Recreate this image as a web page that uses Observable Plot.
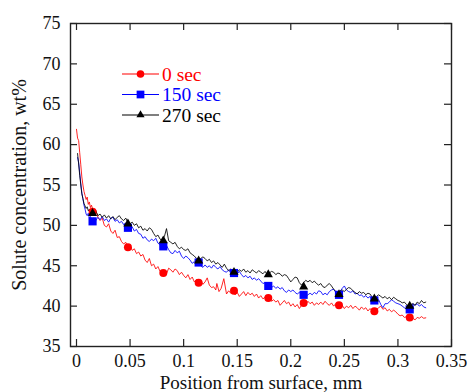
<!DOCTYPE html>
<html>
<head>
<meta charset="utf-8">
<script src="https://cdn.jsdelivr.net/npm/d3@7"></script>
<script src="https://cdn.jsdelivr.net/npm/@observablehq/plot@0.6"></script>
<style>
  html, body { margin: 0; padding: 0; background: #fff; }
  #chart { width: 470px; height: 392px; }
  #chart svg text { font-family: 'Liberation Serif', 'Times New Roman', serif; }
  #chart g[aria-label="x-axis tick label"], #chart g[aria-label="y-axis tick label"] { font-size: 18px; }
  #chart g[aria-label="x-axis label"] { font-size: 19px; }
  #chart g[aria-label="y-axis label"] { font-size: 20px; }
</style>
</head>
<body>
<div id="chart"></div>
<script>
// ---- Data ----
const seriesNames = ["0 sec", "150 sec", "270 sec"];
const seriesColors = ["#ff0000", "#0000ff", "#000000"];
const seriesSymbols = ["circle", "square", "triangle"];

const xTicks = [0, 0.05, 0.1, 0.15, 0.2, 0.25, 0.3, 0.35];
const yTicks = [35, 40, 45, 50, 55, 60, 65, 70, 75];

// profile lines: [position mm, wt%]
const line0 = [
[0.000,61.9],[0.001,60.8],[0.002,60.5],[0.003,59.0],[0.004,57.5],[0.005,56.0],[0.006,55.0],[0.007,54.2],[0.008,53.7],[0.009,53.2],
[0.010,53.5],[0.011,52.6],[0.012,52.9],[0.013,52.2],[0.014,52.5],[0.016,51.6],[0.018,51.9],[0.020,51.0],[0.022,50.6],[0.024,50.9],
[0.026,50.0],[0.028,49.8],[0.030,50.2],[0.032,49.3],[0.034,49.0],[0.036,49.4],[0.038,48.5],[0.040,48.6],[0.042,48.0],[0.044,47.7],
[0.046,47.9],[0.048,47.3],[0.050,47.5],[0.052,46.9],[0.054,47.1],[0.056,46.5],[0.058,46.7],[0.060,46.2],[0.062,46.4],[0.064,45.7],
[0.066,45.4],[0.068,45.9],[0.070,45.0],[0.072,45.2],[0.074,44.6],[0.076,44.9],[0.078,44.3],[0.080,44.1],[0.082,44.4],[0.084,44.0],
[0.086,44.7],[0.088,44.5],[0.090,44.2],[0.092,44.6],[0.094,44.4],[0.096,43.9],[0.098,44.2],[0.100,43.8],[0.102,43.5],[0.104,43.9],
[0.106,43.3],[0.108,43.6],[0.110,43.0],[0.112,43.3],[0.114,42.9],[0.116,43.1],[0.118,42.7],[0.120,43.0],[0.122,43.5],[0.124,42.6],
[0.126,42.3],[0.128,42.4],[0.130,42.0],[0.131,42.8],[0.133,41.8],[0.135,42.2],[0.1375,43.4],[0.140,41.5],[0.142,41.9],[0.144,41.6],
[0.146,41.9],[0.148,41.4],[0.150,41.7],[0.152,41.2],[0.154,41.5],[0.156,41.8],[0.158,41.3],[0.160,41.7],[0.162,41.4],[0.164,41.6],
[0.166,41.2],[0.168,41.5],[0.170,41.0],[0.172,41.3],[0.174,40.9],[0.176,41.1],[0.178,40.9],[0.180,41.2],[0.182,40.6],[0.184,40.8],
[0.186,40.5],[0.188,40.7],[0.190,40.1],[0.192,40.4],[0.194,40.7],[0.196,40.3],[0.198,40.5],[0.200,40.0],[0.202,40.3],[0.204,39.9],
[0.206,40.2],[0.208,39.7],[0.210,40.1],[0.212,40.4],[0.214,40.2],[0.216,40.6],[0.218,40.3],[0.220,40.5],[0.222,40.1],[0.224,40.4],
[0.226,40.2],[0.228,40.5],[0.230,40.2],[0.232,40.6],[0.234,40.3],[0.236,40.1],[0.238,40.4],[0.240,40.0],[0.242,40.3],[0.244,40.1],
[0.246,39.8],[0.248,40.1],[0.250,39.7],[0.252,40.0],[0.254,39.8],[0.256,40.1],[0.258,39.7],[0.260,40.0],[0.262,39.8],[0.264,39.5],
[0.266,39.9],[0.268,39.6],[0.270,39.8],[0.272,39.4],[0.274,39.7],[0.276,39.4],[0.278,39.3],[0.280,39.6],[0.282,39.8],[0.284,40.0],
[0.286,39.6],[0.288,39.8],[0.290,39.4],[0.292,39.6],[0.294,39.3],[0.296,39.5],[0.298,39.3],[0.300,39.0],[0.302,38.8],[0.304,38.9],
[0.306,38.6],[0.308,38.7],[0.310,38.5],[0.312,38.4],[0.314,38.5],[0.316,38.3],[0.318,38.6],[0.320,38.5],[0.322,38.7],[0.324,38.5],
[0.326,38.55]
];
const line150 = [
[0.001,58.4],[0.002,57.8],[0.003,56.5],[0.004,55.2],[0.005,54.0],[0.006,53.3],[0.007,52.5],[0.008,52.0],[0.009,51.4],[0.010,51.2],
[0.011,51.5],[0.012,50.9],[0.013,51.1],[0.014,50.7],[0.016,50.9],[0.018,50.6],[0.020,51.0],[0.022,50.7],[0.024,51.1],[0.026,50.6],
[0.028,50.8],[0.030,50.4],[0.032,50.9],[0.034,51.0],[0.036,50.5],[0.038,50.7],[0.040,50.3],[0.042,50.5],[0.044,50.1],[0.046,50.3],
[0.048,49.8],[0.050,49.6],[0.052,49.8],[0.054,49.3],[0.056,49.5],[0.058,49.0],[0.060,48.9],[0.062,48.4],[0.064,48.6],[0.066,48.2],
[0.068,48.0],[0.070,48.3],[0.072,48.1],[0.074,48.4],[0.076,47.8],[0.078,47.6],[0.080,47.4],[0.082,47.7],[0.084,47.5],[0.086,47.0],
[0.088,46.6],[0.090,46.5],[0.092,46.9],[0.094,46.6],[0.096,46.8],[0.098,46.2],[0.100,45.9],[0.102,46.2],[0.104,46.0],[0.106,45.7],
[0.108,45.3],[0.110,45.5],[0.112,45.2],[0.114,45.3],[0.116,45.0],[0.118,44.8],[0.120,45.1],[0.122,44.8],[0.124,45.0],[0.126,44.7],
[0.128,45.1],[0.130,44.8],[0.132,44.6],[0.134,44.9],[0.136,44.5],[0.138,44.3],[0.140,44.2],[0.142,44.5],[0.144,44.1],[0.146,44.0],
[0.148,44.3],[0.150,44.0],[0.152,44.3],[0.154,43.9],[0.156,43.6],[0.158,43.8],[0.160,43.5],[0.162,43.7],[0.164,43.3],[0.166,43.5],
[0.168,43.2],[0.170,43.4],[0.172,43.1],[0.174,42.8],[0.176,42.9],[0.178,42.5],[0.180,42.6],[0.182,42.3],[0.184,42.5],[0.186,42.2],
[0.188,42.4],[0.190,42.1],[0.192,42.3],[0.194,41.9],[0.196,41.7],[0.198,42.0],[0.200,41.8],[0.202,42.0],[0.204,41.7],[0.206,41.5],
[0.208,41.7],[0.210,41.4],[0.212,41.5],[0.214,41.2],[0.216,41.4],[0.218,41.6],[0.220,41.4],[0.222,41.7],[0.224,41.5],[0.226,41.9],
[0.228,41.8],[0.230,41.4],[0.232,41.6],[0.234,41.4],[0.236,41.8],[0.238,42.0],[0.240,42.1],[0.242,41.7],[0.244,41.5],[0.246,41.8],
[0.248,42.2],[0.250,42.5],[0.252,42.0],[0.254,41.8],[0.256,41.7],[0.258,41.9],[0.260,41.5],[0.262,41.6],[0.264,41.3],[0.266,41.4],
[0.268,41.1],[0.270,41.3],[0.272,41.0],[0.274,41.2],[0.276,40.9],[0.278,40.8],[0.280,40.6],[0.282,40.8],[0.284,40.2],[0.286,39.8],
[0.288,40.3],[0.290,40.3],[0.292,40.5],[0.294,40.8],[0.296,40.6],[0.298,40.4],[0.300,40.3],[0.302,40.2],[0.304,40.0],[0.306,39.8],
[0.308,39.6],[0.310,39.6],[0.312,39.8],[0.314,40.3],[0.316,40.1],[0.318,40.3],[0.320,40.0],[0.322,40.2],[0.324,39.9],[0.326,39.8]
];
const line270 = [
[0.001,58.9],[0.002,57.6],[0.003,56.2],[0.004,55.0],[0.005,53.9],[0.006,53.3],[0.007,52.7],[0.008,52.4],[0.009,52.1],[0.010,52.3],
[0.011,51.8],[0.012,52.0],[0.014,51.6],[0.016,51.5],[0.018,51.8],[0.020,51.2],[0.022,51.4],[0.024,51.0],[0.026,51.3],[0.028,50.9],
[0.030,51.2],[0.032,50.8],[0.034,51.1],[0.036,50.7],[0.038,51.0],[0.040,51.2],[0.042,50.8],[0.044,50.6],[0.046,50.9],[0.048,50.3],
[0.050,50.2],[0.052,50.4],[0.054,50.0],[0.056,50.2],[0.058,49.7],[0.060,49.9],[0.062,49.4],[0.064,49.6],[0.066,49.3],[0.068,49.7],
[0.070,49.5],[0.072,49.0],[0.074,48.6],[0.076,48.8],[0.078,48.3],[0.080,48.1],[0.082,48.6],[0.084,49.6],[0.086,48.1],[0.088,47.9],
[0.090,47.7],[0.092,47.9],[0.094,47.4],[0.096,47.1],[0.098,47.3],[0.100,47.0],[0.102,46.9],[0.104,47.1],[0.106,46.6],[0.108,46.4],
[0.110,46.2],[0.112,45.9],[0.114,45.7],[0.116,45.9],[0.118,46.1],[0.120,45.9],[0.122,45.6],[0.124,45.8],[0.126,45.4],[0.128,45.6],
[0.130,45.2],[0.132,45.4],[0.134,45.1],[0.136,44.8],[0.138,45.2],[0.140,44.7],[0.142,44.4],[0.144,44.6],[0.146,44.3],[0.148,44.5],
[0.150,44.2],[0.152,44.5],[0.154,44.3],[0.156,44.6],[0.158,44.2],[0.160,44.4],[0.162,44.1],[0.164,44.5],[0.166,44.3],[0.168,44.1],
[0.170,44.4],[0.172,44.2],[0.174,44.0],[0.176,44.3],[0.178,43.9],[0.180,44.1],[0.182,44.3],[0.184,44.2],[0.186,43.9],[0.188,44.1],
[0.190,44.0],[0.192,43.7],[0.194,43.9],[0.196,43.8],[0.198,43.4],[0.200,43.0],[0.202,43.3],[0.204,43.6],[0.206,43.5],[0.208,42.9],
[0.210,42.6],[0.212,42.9],[0.214,43.2],[0.216,43.0],[0.218,43.2],[0.220,42.9],[0.222,43.1],[0.224,42.8],[0.226,42.6],[0.228,42.8],
[0.230,42.4],[0.232,42.3],[0.234,42.6],[0.236,42.8],[0.238,42.5],[0.240,42.1],[0.242,41.8],[0.244,41.6],[0.246,41.9],[0.248,42.0],
[0.250,41.8],[0.252,42.1],[0.254,42.3],[0.256,42.2],[0.258,41.9],[0.260,41.7],[0.262,41.5],[0.264,41.8],[0.266,41.6],[0.268,41.7],
[0.270,41.4],[0.272,41.6],[0.274,41.5],[0.276,41.1],[0.278,40.9],[0.280,41.2],[0.282,41.4],[0.284,41.2],[0.286,41.0],[0.288,41.2],
[0.290,40.9],[0.292,41.1],[0.294,40.8],[0.296,41.1],[0.298,40.9],[0.300,40.7],[0.302,40.6],[0.304,40.4],[0.306,40.5],[0.308,40.2],
[0.310,40.0],[0.312,40.2],[0.314,40.3],[0.316,40.1],[0.318,40.5],[0.320,40.3],[0.322,40.7],[0.324,40.4],[0.326,40.5]
];

// marker positions and values
const markerX = [0.015, 0.048, 0.081, 0.114, 0.147, 0.179, 0.212, 0.245, 0.278, 0.311];
const marker0   = [51.7, 47.3, 44.1, 42.9, 41.9, 41.0, 40.4, 40.1, 39.35, 38.6];
const marker150 = [50.5, 49.7, 47.4, 45.4, 44.1, 42.5, 41.4, 41.4, 40.7, 39.6];
const marker270 = [51.5, 50.2, 48.1, 45.6, 44.2, 43.9, 42.4, 41.45, 40.9, 40.0];

// ---- Build ----
const lines = [line0, line150, line270];
const markers = [marker0, marker150, marker270];
const dotR = [4, 4.6, 3.4];

const W = 470, H = 392, ML = 70, MR = 19, MT = 23, MB = 46;
const innerW = W - ML - MR, innerH = H - MT - MB, tickLen = 7;
const font = "'Liberation Serif', 'Times New Roman', serif";

const marks = [
  Plot.axisX({ticks: xTicks, tickSize: 0, tickPadding: 8, tickFormat: d => String(d),
    label: "Position from surface, mm", labelAnchor: "center", labelOffset: 42, labelArrow: "none", fontSize: 18}),
  Plot.axisY({ticks: yTicks, tickSize: 0, tickPadding: 10, tickFormat: d => String(d),
    label: "Solute concentration, wt%", labelAnchor: "center", labelOffset: 59, labelArrow: "none", fontSize: 18}),
  Plot.tickY(yTicks, {y: d => d, insetRight: innerW - tickLen, stroke: "#222", strokeWidth: 1.2}),
  Plot.tickY(yTicks, {y: d => d, insetLeft: innerW - tickLen, stroke: "#222", strokeWidth: 1.2}),
  Plot.tickX(xTicks, {x: d => d, insetTop: innerH - tickLen, stroke: "#222", strokeWidth: 1.2}),
  Plot.tickX(xTicks, {x: d => d, insetBottom: innerH - tickLen, stroke: "#222", strokeWidth: 1.2}),
];
lines.forEach((ln, i) => {
  marks.push(Plot.line(ln, {x: d => d[0], y: d => d[1], stroke: seriesColors[i], strokeWidth: 1, strokeOpacity: 0.85}));
});
markers.forEach((vals, i) => {
  marks.push(Plot.dot(markerX.map((x, j) => ({x, y: vals[j]})),
    {x: "x", y: "y", symbol: seriesSymbols[i], fill: seriesColors[i], stroke: "none", r: dotR[i]}));
});
marks.push(Plot.frame({stroke: "#222", strokeWidth: 1.4}));

const chart = Plot.plot({
  width: W, height: H,
  marginLeft: ML, marginRight: MR, marginTop: MT, marginBottom: MB,
  style: `font-family: ${font}; background: #fff; color: #111;`,
  x: {domain: [-0.0056, 0.35]},
  y: {domain: [35, 75]},
  marks
});
document.getElementById("chart").appendChild(chart);

// ---- Legend (inside plot, upper left) ----
const svg = d3.select(chart);
const lg = svg.append("g").attr("font-family", font).attr("font-size", 19.5).attr("text-anchor", "start");
const lx0 = 122, lx1 = 159, ly0 = 74, lstep = 20.5;
const symGen = [d3.symbolCircle, d3.symbolSquare, d3.symbolTriangle];
seriesNames.forEach((name, i) => {
  const y = ly0 + i * lstep;
  lg.append("line").attr("x1", lx0).attr("x2", lx1).attr("y1", y).attr("y2", y)
    .attr("stroke", seriesColors[i]).attr("stroke-width", 1.2);
  lg.append("path").attr("transform", `translate(${(lx0 + lx1) / 2},${y})`)
    .attr("d", d3.symbol(symGen[i], Math.PI * dotR[i] * dotR[i] * (i === 2 ? 0.8 : 0.9))())
    .attr("fill", seriesColors[i]);
  lg.append("text").attr("x", lx1 + 3).attr("y", y).attr("dy", "0.35em")
    .attr("fill", seriesColors[i]).text(name);
});
</script>
</body>
</html>
